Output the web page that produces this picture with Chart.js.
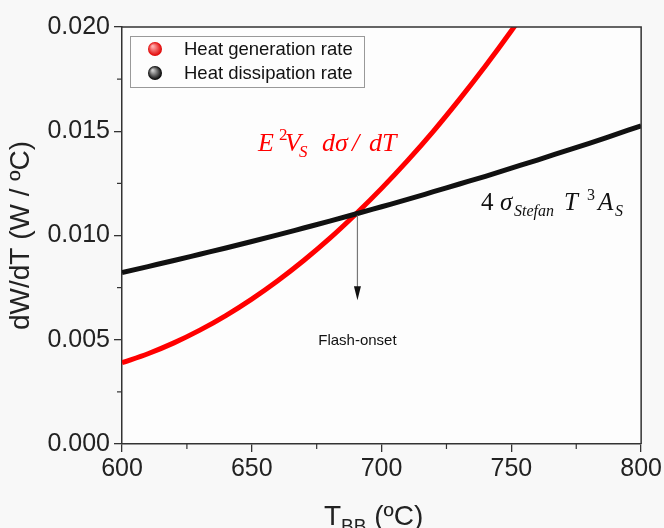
<!DOCTYPE html>
<html><head><meta charset="utf-8">
<script src="https://cdn.jsdelivr.net/npm/chart.js@4/dist/chart.umd.min.js"></script>
<style>html,body{margin:0;padding:0;background:#f8f8f8}#wrap{width:664px;height:528px;position:relative}</style>
</head><body><div id="wrap"><canvas id="c" width="664" height="528"></canvas></div>
<script>
// ---- data ----
const genTemps = [600,610,620,630,640,650,660,670,680,690,700,710,720,730,740,750,760];
const genRate  = [0.0039,0.00433,0.00485,0.00546,0.00616,0.00695,0.00783,0.00880,0.00986,0.01102,0.01226,0.01359,0.01501,0.01653,0.01813,0.01982,0.0216];
const dissTemps = [600,610,620,630,640,650,660,670,680,690,700,710,720,730,740,750,760,770,780,790,800];
const dissRate  = [0.00822,0.00851,0.00880,0.00910,0.00940,0.00971,0.01003,0.01036,0.01069,0.01103,0.01138,0.01173,0.01210,0.01247,0.01284,0.01323,0.01362,0.01402,0.01442,0.01484,0.01526];
const seriesNames = ['Heat generation rate','Heat dissipation rate'];
const xMajorTicks = [600,650,700,750,800];
const xMinorTicks = [625,675,725,775];
const yMajorTicks = [0,0.005,0.010,0.015,0.020];
const yMinorTicks = [0.0025,0.0075,0.0125,0.0175];
const onset = {T:690.7, rate:0.01111, label:'Flash-onset'};
const xTitle = ['T','BB',' (ºC)'];
const yTitle = 'dW/dT (W / ºC)';

const SANS = '"Liberation Sans", Arial, sans-serif';
const SERIF = '"Liberation Serif", "Times New Roman", serif';

function drawAt(ctx, y, pieces){
  for(const p of pieces){ ctx.font = p.font; ctx.fillText(p.t, p.x, y + (p.dy||0)); }
}
function drawPieces(ctx, x, y, pieces){
  for(const p of pieces){
    ctx.font = p.font;
    ctx.fillText(p.t, x + (p.dx||0), y + (p.dy||0));
    x += (p.dx||0) + ctx.measureText(p.t).width;
  }
  return x;
}
function sphere(ctx, x, y, r, c1, c2){
  const g = ctx.createRadialGradient(x-r*0.35, y-r*0.4, r*0.1, x, y, r);
  g.addColorStop(0, c1); g.addColorStop(1, c2);
  ctx.fillStyle = g; ctx.beginPath(); ctx.arc(x,y,r,0,Math.PI*2); ctx.fill();
}

const decor = {
  id:'decor',
  beforeDraw(chart){
    const ctx = chart.ctx, a = chart.chartArea;
    ctx.save();
    ctx.fillStyle = '#f8f8f8'; ctx.fillRect(0,0,chart.width,chart.height);
    ctx.fillStyle = '#fdfdfd'; ctx.fillRect(a.left,a.top,a.right-a.left,a.bottom-a.top);
    ctx.restore();
  },
  afterDatasetsDraw(chart){
    const ctx = chart.ctx, xs = chart.scales.x, ys = chart.scales.y;
    ctx.save();
    // arrow at flash onset
    const ax = xs.getPixelForValue(onset.T), ay = ys.getPixelForValue(onset.rate);
    ctx.strokeStyle = '#777'; ctx.lineWidth = 1.2;
    ctx.beginPath(); ctx.moveTo(ax, ay+3); ctx.lineTo(ax, ay+80); ctx.stroke();
    ctx.fillStyle = '#111';
    ctx.beginPath(); ctx.moveTo(ax-3.5, ay+74); ctx.lineTo(ax+3.5, ay+74); ctx.lineTo(ax, ay+88); ctx.closePath(); ctx.fill();
    ctx.font = '15px '+SANS; ctx.textAlign='center'; ctx.textBaseline='alphabetic';
    ctx.fillStyle = '#111'; ctx.fillText(onset.label, ax, ay+133);
    ctx.textAlign='left';
    // red formula
    ctx.fillStyle = '#f00';
    const f1 = 'italic 26px '+SERIF, f1s = 'italic 17px '+SERIF, f1n='17px '+SERIF;
    drawAt(ctx, 151, [
      {t:'E', font:f1, x:258},{t:'2', font:f1n, x:279, dy:-11},{t:'V', font:f1, x:285},
      {t:'S', font:f1s, x:299, dy:6},{t:'d\u03C3', font:f1, x:322},{t:'/', font:f1, x:352},{t:'dT', font:f1, x:369}
    ]);
    // black formula
    ctx.fillStyle = '#111';
    const f2 = 'italic 25px '+SERIF, f2s = 'italic 16px '+SERIF, f2n='16px '+SERIF;
    drawAt(ctx, 210, [
      {t:'4', font:'25px '+SERIF, x:481},{t:'\u03C3', font:f2, x:500},{t:'Stefan', font:f2s, x:514, dy:6},
      {t:'T', font:f2, x:564},{t:'3', font:f2n, x:587, dy:-10},{t:'A', font:f2, x:598},{t:'S', font:f2s, x:615, dy:6}
    ]);
    ctx.restore();
  },
  afterDraw(chart){
    const ctx = chart.ctx, a = chart.chartArea, xs = chart.scales.x, ys = chart.scales.y;
    ctx.save();
    ctx.strokeStyle = '#333'; ctx.lineWidth = 1.5;
    // frame top and right
    ctx.beginPath(); ctx.moveTo(a.left, a.top); ctx.lineTo(a.right, a.top); ctx.lineTo(a.right, a.bottom); ctx.stroke();
    // minor ticks
    ctx.lineWidth = 1.2;
    for(const v of yMinorTicks){ const y = ys.getPixelForValue(v); ctx.beginPath(); ctx.moveTo(a.left-5, y); ctx.lineTo(a.left, y); ctx.stroke(); }
    for(const v of xMinorTicks){ const x = xs.getPixelForValue(v); ctx.beginPath(); ctx.moveTo(x, a.bottom); ctx.lineTo(x, a.bottom+5); ctx.stroke(); }
    // legend
    ctx.fillStyle = '#fdfdfd'; ctx.fillRect(130,36,234,51);
    ctx.strokeStyle = '#999'; ctx.lineWidth = 1; ctx.strokeRect(130.5,36.5,234,51);
    sphere(ctx, 155, 49, 7, '#ffb0b0', '#e00000');
    sphere(ctx, 155, 73, 7, '#cccccc', '#000000');
    ctx.fillStyle = '#111'; ctx.font = '18.5px '+SANS; ctx.textBaseline='alphabetic';
    ctx.fillText(seriesNames[0], 184, 55);
    ctx.fillText(seriesNames[1], 184, 79);
    // x title with subscript
    ctx.fillStyle = '#222';
    drawPieces(ctx, 324, 525, [
      {t:xTitle[0], font:'28px '+SANS},{t:xTitle[1], font:'19px '+SANS, dx:0, dy:7},{t:xTitle[2], font:'28px '+SANS}
    ]);
    ctx.restore();
  }
};

new Chart(document.getElementById('c'), {
  type:'line',
  data:{ datasets:[
    {label:seriesNames[0], data:genTemps.map((t,i)=>({x:t,y:genRate[i]})), borderColor:'#f00', borderWidth:5, pointRadius:0, cubicInterpolationMode:'monotone', order:1},
    {label:seriesNames[1], data:dissTemps.map((t,i)=>({x:t,y:dissRate[i]})), borderColor:'#111', borderWidth:5, pointRadius:0, cubicInterpolationMode:'monotone', order:0}
  ]},
  options:{
    responsive:false, animation:false, devicePixelRatio:1,
    layout:{padding:{top:27,right:22,left:0,bottom:0}},
    plugins:{legend:{display:false}, tooltip:{enabled:false}},
    scales:{
      x:{type:'linear', min:600, max:800,
        afterBuildTicks:s=>{s.ticks = xMajorTicks.map(v=>({value:v}));},
        afterFit:s=>{s.height = 84;},
        grid:{display:true, drawOnChartArea:false, drawTicks:true, tickLength:8, color:'#333', lineWidth:1.3},
        border:{display:true, color:'#333', width:1.5},
        ticks:{font:{family:SANS, size:25}, color:'#222', padding:2, maxRotation:0, callback:v=>String(v)},
      },
      y:{type:'linear', min:0, max:0.02,
        afterBuildTicks:s=>{s.ticks = yMajorTicks.map(v=>({value:v}));},
        afterFit:s=>{s.width = 122;},
        grid:{display:true, drawOnChartArea:false, drawTicks:true, tickLength:8, color:'#333', lineWidth:1.3},
        border:{display:true, color:'#333', width:1.5},
        ticks:{font:{family:SANS, size:25}, color:'#222', padding:4, callback:v=>Number(v).toFixed(3)},
        title:{display:true, text:yTitle, font:{family:SANS, size:28}, color:'#222', padding:{top:4,bottom:0}}
      }
    }
  },
  plugins:[decor]
});
</script>
</body></html>
